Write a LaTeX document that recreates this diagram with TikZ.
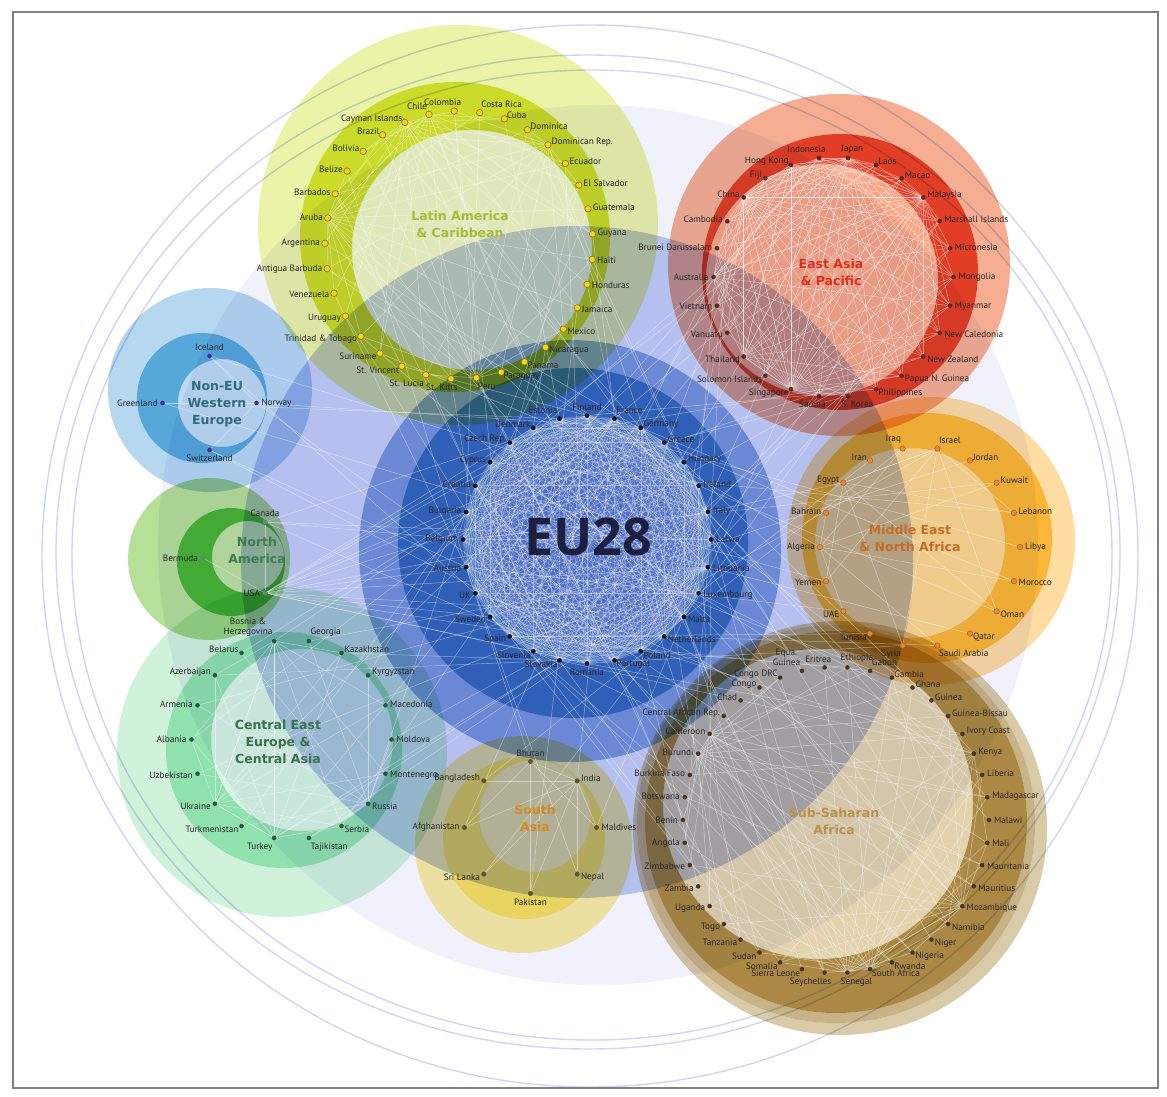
\documentclass[tikz,border=0pt]{standalone}
\usepackage{fontspec}
\newfontfamily\lblfont{PT Sans}
\newfontfamily\ttlfont{DejaVu Sans}
\newfontfamily\eufont{Open Sans}

\pgfdeclarelayer{disks}
\pgfdeclarelayer{edges}
\pgfsetlayers{disks,edges,main}

% background and ring colours
\definecolor{faint}{HTML}{F0F1FB}
\definecolor{ringline}{HTML}{D0D5F4}
\definecolor{peri}{HTML}{B6C0EE}
\definecolor{frame}{HTML}{808080}
\definecolor{labeltext}{HTML}{262626}
% EU28
\definecolor{euOuter}{HTML}{6A88D4}
\definecolor{euRing}{HTML}{2F5FB6}
\definecolor{euInner}{HTML}{4C6DC3}
\definecolor{euDot}{HTML}{121212}
\definecolor{euTitle}{HTML}{1C2040}
% Latin America & Caribbean
\definecolor{lacHalo}{HTML}{EAF3A8}
\definecolor{lacRing}{HTML}{CADB2A}
\definecolor{lacInner}{HTML}{EFF6BE}
\definecolor{lacDot}{HTML}{F7D51E}
\definecolor{lacDotLine}{HTML}{8C7C12}
\definecolor{lacTitle}{HTML}{A8BB38}
% East Asia & Pacific
\definecolor{eapHalo}{HTML}{F6AE92}
\definecolor{eapRing}{HTML}{E23E26}
\definecolor{eapInner}{HTML}{F8A688}
\definecolor{eapDot}{HTML}{5A2823}
\definecolor{eapTitle}{HTML}{E0301C}
% Non-EU Western Europe
\definecolor{neHalo}{HTML}{B6D7F0}
\definecolor{neRing}{HTML}{56A7DA}
\definecolor{neInner}{HTML}{BBDAF0}
\definecolor{neDot}{HTML}{4B2C8C}
\definecolor{neTitle}{HTML}{2F6B7E}
% North America
\definecolor{naHalo}{HTML}{B6DF98}
\definecolor{naRing}{HTML}{48B437}
\definecolor{naInner}{HTML}{BCE19F}
\definecolor{naDot}{HTML}{5B8B7B}
\definecolor{naTitle}{HTML}{3E7B52}
% Central East Europe & Central Asia
\definecolor{ceeHalo}{HTML}{D0F2DA}
\definecolor{ceeRing}{HTML}{8FE1AD}
\definecolor{ceeInner}{HTML}{D6F4E0}
\definecolor{ceeDot}{HTML}{1F5B3D}
\definecolor{ceeTitle}{HTML}{3A7150}
% Middle East & North Africa
\definecolor{menaHalo}{HTML}{FEDCA2}
\definecolor{menaRing}{HTML}{FCB637}
\definecolor{menaInner}{HTML}{FDD78E}
\definecolor{menaDot}{HTML}{E48A3C}
\definecolor{menaDotLine}{HTML}{A85C1A}
\definecolor{menaTitle}{HTML}{C26E28}
% South Asia
\definecolor{saHalo}{HTML}{FAEDA4}
\definecolor{saRing}{HTML}{F8E164}
\definecolor{saInner}{HTML}{F9EBA2}
\definecolor{saDot}{HTML}{5B5533}
\definecolor{saTitle}{HTML}{D28A22}
% Sub-Saharan Africa
\definecolor{ssaHaloA}{HTML}{DACBA8}
\definecolor{ssaHaloB}{HTML}{C8B386}
\definecolor{ssaRing}{HTML}{AB8944}
\definecolor{ssaInner}{HTML}{E2D2AE}
\definecolor{ssaDot}{HTML}{4A3421}
\definecolor{ssaTitle}{HTML}{B8914C}

\tikzset{
  lbl/.style={font=\lblfont\fontsize{9.2}{10}\selectfont, text=labeltext,
    inner sep=0.8pt, align=center},
  wline/.style={draw=white, line width=0.5pt, opacity=0.45},
  euline/.style={draw=white, line width=0.45pt, opacity=0.38},
  ringstroke/.style={draw=ringline, line width=1.4pt},
  grouptitle/.style={font=\ttlfont\bfseries\fontsize{12.5}{17}\selectfont, align=center},
  dotbase/.style={circle, inner sep=0pt, minimum size=4.6pt},
  dotlac/.style={dotbase, minimum size=6.5pt, fill=lacDot, draw=lacDotLine, line width=0.7pt},
  doteap/.style={dotbase, fill=eapDot},
  dotne/.style={dotbase, fill=neDot},
  dotna/.style={dotbase, minimum size=5pt, fill=naDot},
  dotcee/.style={dotbase, fill=ceeDot},
  doteu/.style={dotbase, fill=euDot},
  dotmena/.style={dotbase, minimum size=5.5pt, fill=menaDot, draw=menaDotLine, line width=0.5pt},
  dotsa/.style={dotbase, minimum size=5pt, fill=saDot},
  dotssa/.style={dotbase, fill=ssaDot},
}

% countries of one group on a circle, clockwise, with outward labels
% #1 prefix, #2 cx, #3 cy, #4 radius, #5 angle of first, #6 count, #7 dot style,
% #8 names, #9 |cos| above which labels on the lower half sit beside the dot
\newcommand\countries[9]{%
  \foreach \nm [count=\i] in {#8}{%
    \pgfmathsetmacro\a{#5-(\i-1)*360/#6}%
    \pgfmathsetmacro\cc{cos(\a)}%
    \pgfmathsetmacro\ss{sin(\a)}%
    \pgfmathsetmacro\px{#2+#4*\cc}%
    \pgfmathsetmacro\py{#3-#4*\ss}%
    \pgfmathsetmacro\th{(\ss>0)?0.3:#9}%
    \pgfmathtruncatemacro\k{(\cc>\th)?1:((\cc<-\th)?2:((\cc>0.13)?3:((\cc<-0.13)?4:((\cc>0.03)?5:((\cc<-0.03)?6:7)))))}%
    \pgfmathtruncatemacro\up{(\ss>0)?1:0}%
    \def\dx{0}%
    \ifcase\k\relax\or\def\anc{west}\or\def\anc{east}%
    \or\ifnum\up=1 \def\anc{south west}\else\def\anc{north west}\fi
    \or\ifnum\up=1 \def\anc{south east}\else\def\anc{north east}\fi
    \or\ifnum\up=1 \def\anc{south west}\else\def\anc{north west}\fi\def\dx{-8}%
    \or\ifnum\up=1 \def\anc{south east}\else\def\anc{north east}\fi\def\dx{8}%
    \or\ifnum\up=1 \def\anc{south}\else\def\anc{north}\fi
    \fi
    \node[#7] (#1\i) at (\px,\py) {};
    \node[lbl,anchor=\anc] (#1l\i) at ({\px+4*\cc+\dx},{\py-4*\ss}) {\nm};
  }}

% links from hub countries to every #4-th country of the same group
\newcommand\hubs[4]{%
  \foreach \h in {#3}{%
    \foreach \j in {1,...,#2}{%
      \pgfmathtruncatemacro\t{mod(\j+\h,#4)}%
      \ifnum\t=0 \ifnum\j=\h\relax\else\draw[wline] (#1\h) -- (#1\j);\fi\fi
    }}}

% links from each country of a group to one EU member
\newcommand\toeu[4]{%
  \foreach \i in {1,...,#2}{%
    \pgfmathtruncatemacro\t{mod(\i*#3+#4,28)+1}%
    \draw[wline] (#1\i) -- (eu\t);}}

\begin{document}
\begin{tikzpicture}[x=1pt,y=-1pt]
\useasboundingbox (0,0) rectangle (1167,1097);

\begin{pgfonlayer}{disks}
  \fill[faint] (598,545) circle[radius=440];
  \begin{scope}
    \clip (13,12) rectangle (1158,1088);
    \draw[ringstroke] (590,556) ellipse[x radius=548, y radius=531];
    \draw[ringstroke] (588,552) ellipse[x radius=532, y radius=497];
    \draw[ringstroke] (592,555) ellipse[x radius=520, y radius=485];
  \end{scope}
  \fill[peri] (577,562) circle[radius=336];
  % EU28
  \fill[euOuter] (570,551) circle[radius=211];
  \fill[euRing] (573,543) circle[radius=175];
  \fill[euInner] (590,540) circle[radius=112];
  \begin{scope}[blend mode=multiply]
    % Latin America & Caribbean
    \fill[lacHalo, even odd rule] (458,225) circle[radius=200] (455,237) circle[radius=155];
    \fill[lacRing, even odd rule] (455,237) circle[radius=155] (472,250) circle[radius=120];
    \fill[lacInner] (472,250) circle[radius=120];
    % East Asia & Pacific
    \fill[eapHalo, even odd rule] (839,265) circle[radius=171] (840,272) circle[radius=138];
    \fill[eapRing, even odd rule] (840,272) circle[radius=138] (822,280) circle[radius=116];
    \fill[eapInner] (822,280) circle[radius=116];
    % Non-EU Western Europe
    \fill[neHalo, even odd rule] (210,390) circle[radius=102] (202,398) circle[radius=65];
    \fill[neRing, even odd rule] (202,398) circle[radius=65] (222,403) circle[radius=44];
    \fill[neInner] (222,403) circle[radius=44];
    % North America
    \fill[naHalo, even odd rule] (209,559) circle[radius=81] (231,562) circle[radius=54];
    \fill[naRing, even odd rule] (231,562) circle[radius=54] (248,557) circle[radius=36];
    \fill[naInner] (248,557) circle[radius=36];
    % Central East Europe & Central Asia
    \fill[ceeHalo, even odd rule] (282,752) circle[radius=165] (284,750) circle[radius=118];
    \fill[ceeRing, even odd rule] (284,750) circle[radius=118] (302,740) circle[radius=91];
    \fill[ceeInner] (302,740) circle[radius=91];
    % Middle East & North Africa
    \fill[menaHalo, even odd rule] (931,541) circle[radius=144] (927,538) circle[radius=125];
    \fill[menaRing, even odd rule] (927,538) circle[radius=125] (910,543) circle[radius=95];
    \fill[menaInner] (910,543) circle[radius=95];
    % South Asia
    \fill[saHalo, even odd rule] (523.5,844.5) circle[radius=108.5] (524,838) circle[radius=81];
    \fill[saRing, even odd rule] (524,838) circle[radius=81] (535,816) circle[radius=56];
    \fill[saInner] (535,816) circle[radius=56];
    % Sub-Saharan Africa
    \fill[ssaHaloA, even odd rule] (840,828) circle[radius=207] (836,824) circle[radius=199];
    \fill[ssaHaloB, even odd rule] (836,824) circle[radius=199] (836,822) circle[radius=191];
    \fill[ssaRing, even odd rule] (836,822) circle[radius=191] (818,804) circle[radius=155];
    \fill[ssaInner] (818,804) circle[radius=155];
  \end{scope}
\end{pgfonlayer}

% countries
\countries{eu}{587}{539.5}{124}{192.857}{28}{doteu}{Austria, Belgium, Bulgaria, Croatia, Cyprus, Czech Rep., Denmark, Estonia, Finland, France, Germany, Greece, Hungary, Ireland, Italy, Latvia, Lithuania, Luxembourg, Malta, Netherlands, Poland, Portugal, Romania, Slovakia, Slovenia, Spain, Sweden, UK}{0.2}
\countries{lac}{459}{245}{134}{190.2}{33}{dotlac}{Antigua Barbuda, Argentina, Aruba, Barbados, Belize, Bolivia, Brazil, Cayman Islands, Chile, Colombia, Costa Rica, Cuba, Dominica, Dominican Rep., Ecuador, El Salvador, Guatemala, Guyana, Haiti, Honduras, Jamaica, Mexico, Nicaragua, Panama, Paraguay, Peru, St. Kitts, St. Lucia, St. Vincent, Suriname, Trinidad \& Tobago, Uruguay, Venezuela}{0.3}
\countries{eap}{833.5}{277}{120}{180}{26}{doteap}{Australia, Brunei Darussalam, Cambodia, China, Fiji, Hong Kong, Indonesia, Japan, Laos, Macao, Malaysia, Marshall Islands, Micronesia, Mongolia, Myanmar, New Caledonia, New Zealand, Papua N. Guinea, Philippines, S. Korea, Samoa, Singapore, Solomon Islands, Thailand, Vanuatu, Vietnam}{0.3}
\countries{ne}{209.5}{403}{47}{180}{4}{dotne}{Greenland, Iceland, Norway, Switzerland}{0.3}
\countries{cee}{291.5}{739.5}{100}{180}{18}{dotcee}{Albania, Armenia, Azerbaijan, Belarus, {Bosnia \&\\Herzegovina}, Georgia, Kazakhstan, Kyrgyzstan, Macedonia, Moldova, Montenegro, Russia, Serbia, Tajikistan, Turkey, Turkmenistan, Ukraine, Uzbekistan}{0.3}
\countries{mena}{920}{547}{100}{180}{18}{dotmena}{Algeria, Bahrain, Egypt, Iran, Iraq, Israel, Jordan, Kuwait, Lebanon, Libya, Morocco, Oman, Qatar, Saudi Arabia, Syria, Tunisia, UAE, Yemen}{0.3}
\countries{sa}{530.5}{827.5}{66}{180}{8}{dotsa}{Afghanistan, Bangladesh, Bhutan, India, Maldives, Nepal, Pakistan, Sri Lanka}{0.3}
\countries{ssa}{836}{820}{153}{188.571}{42}{dotssa}{Angola, Benin, Botswana, Burkina Faso, Burundi, Cameroon, Central African Rep., Chad, Congo, Congo DRC, {Equa.\\Guinea}, Eritrea, Ethiopia, Gabon, Gambia, Ghana, Guinea, Guinea-Bissau, Ivory Coast, Kenya, Liberia, Madagascar, Malawi, Mali, Mauritania, Mauritius, Mozambique, Namibia, Niger, Nigeria, Rwanda, South Africa, Senegal, Seychelles, Sierra Leone, Somalia, Sudan, Tanzania, Togo, Uganda, Zambia, Zimbabwe}{0.2}

% North America
\node[dotna] (na1) at (203,558) {};
\node[lbl,anchor=east] (nal1) at (199,558) {Bermuda};
\node[dotna] (na2) at (265,522) {};
\node[lbl,anchor=south] (nal2) at (265,518) {Canada};
\node[dotna] (na3) at (265,593) {};
\node[lbl,anchor=east] (nal3) at (261,593) {USA};

% links between countries
\begin{pgfonlayer}{edges}
  \foreach \i in {1,...,27}{%
    \pgfmathtruncatemacro\n{\i+1}%
    \foreach \j in {\n,...,28}{\draw[euline] (eu\i) -- (eu\j);}}
  \hubs{lac}{33}{8,3}{2}
  \hubs{lac}{33}{9,26,14}{3}
  \hubs{eap}{26}{4,8,11,22}{1}
  \hubs{eap}{26}{1,6,7,24}{2}
  \hubs{ssa}{42}{33,32,5,27}{3}
  \hubs{ssa}{42}{20,6}{4}
  \hubs{cee}{18}{12,15,17,5}{2}
  \hubs{mena}{18}{1,3,6}{3}
  \hubs{sa}{8}{4}{1}
  \hubs{sa}{8}{3}{2}
  \hubs{ne}{4}{3}{1}
  \draw[wline] (na1) -- (na3);
  \draw[wline] (na2) -- (na3);
  \toeu{lac}{33}{5}{3}
  \toeu{eap}{26}{3}{7}
  \toeu{ssa}{42}{5}{11}
  \toeu{cee}{18}{7}{2}
  \toeu{mena}{18}{3}{5}
  \toeu{sa}{8}{9}{1}
  \toeu{ne}{4}{7}{0}
  \toeu{ne}{4}{11}{5}
  \foreach \t in {1,3,...,27}{\draw[wline] (na3) -- (eu\t);}
  \foreach \t in {2,9,16,23}{\draw[wline] (na2) -- (eu\t);}
\end{pgfonlayer}

% group titles
\node[grouptitle, text=lacTitle] (lacT) at (460,224) {Latin America\\\& Caribbean};
\node[grouptitle, text=eapTitle] (eapT) at (831,272) {East Asia\\\& Pacific};
\node[grouptitle, text=neTitle] (neT) at (217,404) {Non-EU\\Western\\Europe};
\node[grouptitle, text=naTitle] (naT) at (257,550) {North\\America};
\node[grouptitle, text=ceeTitle] (ceeT) at (278,742) {Central East\\Europe \&\\Central Asia};
\node[grouptitle, text=menaTitle] (menaT) at (910,538) {Middle East\\\& North Africa};
\node[grouptitle, text=saTitle] (saT) at (535,818) {South\\Asia};
\node[grouptitle, text=ssaTitle] (ssaT) at (834,821) {Sub-Saharan\\Africa};
\node[font=\eufont\bfseries\fontsize{52}{52}\selectfont, text=euTitle] (euT) at (588,537) {EU28};

% frame
\draw[frame, line width=1.2pt] (13,12) rectangle (1158,1088);
\end{tikzpicture}
\end{document}
